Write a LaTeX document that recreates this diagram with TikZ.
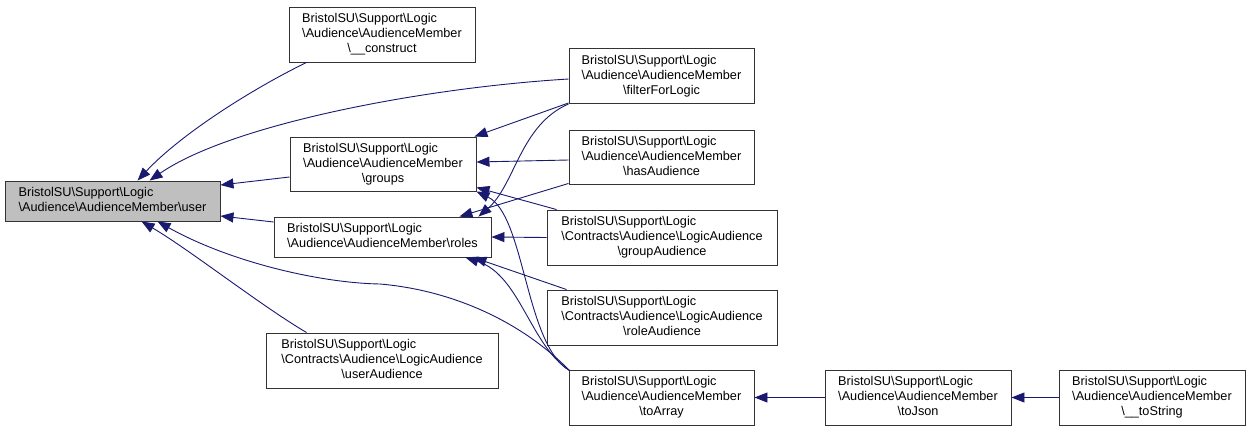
\documentclass[tikz,border=0pt]{standalone}
\usepackage{fontspec}
\setmainfont{Liberation Sans}
\usetikzlibrary{arrows.meta,calc}
\definecolor{edgeblue}{HTML}{191970}
\definecolor{nodegray}{HTML}{BFBFBF}
\newcommand{\bsl}{\textbackslash}
\newcommand{\threelines}[3]{\begin{tabular}{@{}l@{}}#1\\#2\\\multicolumn{1}{@{}c@{}}{#3}\end{tabular}}
\newcommand{\twolines}[2]{\begin{tabular}{@{}l@{}}#1\\\multicolumn{1}{@{}c@{}}{#2}\end{tabular}}
\begin{document}
\begin{tikzpicture}[x=1pt,y=-1pt,
  box/.style={draw=black!80, line width=0.9pt, inner sep=0pt, font=\fontsize{12.7}{15}\selectfont, text=black, minimum height=55pt},
  e/.style={draw=edgeblue, line width=0.9pt, -{Triangle[length=13pt,width=10pt]}}]
\useasboundingbox (0,0) rectangle (1249,431);
% nodes
\node[box, minimum width=215pt, minimum height=40pt, fill=nodegray] (user) at (112.5,201) {\twolines{BristolSU\bsl Support\bsl Logic}{\bsl Audience\bsl AudienceMember\bsl user}};
\node[box, minimum width=186pt] (construct) at (382,34.5) {\threelines{BristolSU\bsl Support\bsl Logic}{\bsl Audience\bsl AudienceMember}{\bsl\_\_construct}};
\node[box, minimum width=186pt, minimum height=54pt] (groups) at (383,164) {\threelines{BristolSU\bsl Support\bsl Logic}{\bsl Audience\bsl AudienceMember}{\bsl groups}};
\node[box, minimum width=217pt, minimum height=40pt] (roles) at (382.5,237) {\twolines{BristolSU\bsl Support\bsl Logic}{\bsl Audience\bsl AudienceMember\bsl roles}};
\node[box, minimum width=232pt] (userAud) at (382,360.5) {\threelines{BristolSU\bsl Support\bsl Logic}{\bsl Contracts\bsl Audience\bsl LogicAudience}{\bsl userAudience}};
\node[box, minimum width=185pt] (filter) at (661.5,76) {\threelines{BristolSU\bsl Support\bsl Logic}{\bsl Audience\bsl AudienceMember}{\bsl filterForLogic}};
\node[box, minimum width=185pt, minimum height=54pt] (hasAud) at (661.5,157) {\threelines{BristolSU\bsl Support\bsl Logic}{\bsl Audience\bsl AudienceMember}{\bsl hasAudience}};
\node[box, minimum width=230pt] (groupAud) at (662,237.5) {\threelines{BristolSU\bsl Support\bsl Logic}{\bsl Contracts\bsl Audience\bsl LogicAudience}{\bsl groupAudience}};
\node[box, minimum width=230pt] (roleAud) at (662,317.5) {\threelines{BristolSU\bsl Support\bsl Logic}{\bsl Contracts\bsl Audience\bsl LogicAudience}{\bsl roleAudience}};
\node[box, minimum width=185pt] (toArray) at (661.5,397.5) {\threelines{BristolSU\bsl Support\bsl Logic}{\bsl Audience\bsl AudienceMember}{\bsl toArray}};
\node[box, minimum width=186pt] (toJson) at (918,397.5) {\threelines{BristolSU\bsl Support\bsl Logic}{\bsl Audience\bsl AudienceMember}{\bsl toJson}};
\node[box, minimum width=186pt] (toString) at (1152,397.5) {\threelines{BristolSU\bsl Support\bsl Logic}{\bsl Audience\bsl AudienceMember}{\bsl\_\_toString}};
% edges
\draw[e] ($(construct.south west)+(18,0)$) .. controls (250,90) and (180,135) .. ($(user.north west)+(133,0)$);
\draw[e] ($(filter.west)+(0,3)$) .. controls (420,88) and (230,125) .. ($(user.north west)+(145,0)$);
\draw[e] ($(groups.west)+(0,13)$) -- ($(user.east)+(0,-16)$);
\draw[e] ($(roles.west)+(0,-15)$) -- ($(user.east)+(0,15)$);
\draw[e] ($(toArray.north west)+(1,1)$) .. controls (520,320) and (450,290) .. (380,284) .. controls (320,283) and (230,262) .. ($(user.south west)+(153,0)$);
\draw[e] ($(userAud.north west)+(41,0)$) .. controls (260,305) and (190,250) .. ($(user.south west)+(137,0)$);
\draw[e] ($(filter.south west)+(0,-1)$) -- ($(groups.north east)+(-2,0)$);
\draw[e] (filter.south west) .. controls (520,125) and (515,185) .. ($(roles.north east)+(-13,0)$);
\draw[e] ($(hasAud.west)+(0,3)$) -- ($(groups.east)+(0,-2)$);
\draw[e] ($(hasAud.south west)+(0,-1)$) -- ($(roles.north east)+(-32,0)$);
\draw[e] ($(groupAud.north west)+(10,0)$) -- ($(groups.south east)+(0,-4)$);
\draw[e] ($(toArray.north west)+(1,1)$) .. controls (525,345) and (525,215) .. (groups.south east);
\draw[e] (groupAud.west) -- (roles.east);
\draw[e] ($(roleAud.north west)+(20,0)$) -- ($(roles.south east)+(-18,0)$);
\draw[e] ($(toArray.north west)+(1,1)$) .. controls (530,345) and (520,275) .. ($(roles.south east)+(-26,0)$);
\draw[e] (toJson) -- (toArray);
\draw[e] (toString) -- (toJson);
\end{tikzpicture}
\end{document}
